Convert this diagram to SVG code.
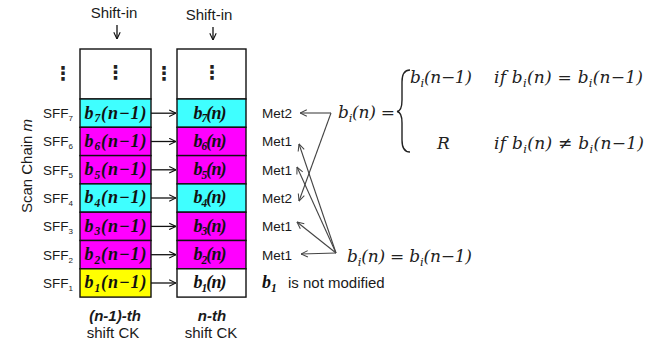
<svg xmlns="http://www.w3.org/2000/svg" width="671" height="342" viewBox="0 0 671 342">
<style>
.bg{fill:#fff}
.cell{stroke:#111;stroke-width:1.4}
.cy{fill:#3fffff}.mg{fill:#ff00ff}.ye{fill:#ffff00}.wh{fill:#fff}
.sans{font-family:"Liberation Sans",Arial,sans-serif;fill:#1a1a1a}
.lbl{font-size:13.5px}
.cl{font-family:"Liberation Serif","Times New Roman",serif;font-weight:bold;font-style:italic;font-size:18px;fill:#111}
.m{font-family:"DejaVu Serif",serif;font-style:italic;font-size:17px;fill:#222}
.sub{font-size:11.5px}
.dots{font-family:"DejaVu Sans",sans-serif;font-weight:bold;font-size:19px;fill:#222}
.arr{stroke:#111;stroke-width:1.3;fill:none}
.garr{stroke:#444;stroke-width:1.1;fill:none}
</style>
<defs>
<marker id="ah" viewBox="0 0 10 10" refX="9.5" refY="5" markerWidth="8" markerHeight="8" orient="auto" markerUnits="userSpaceOnUse">
<path d="M1,1 L9.5,5 L1,9" fill="none" stroke="#111" stroke-width="1.4"/>
</marker>
<marker id="gh" viewBox="0 0 10 10" refX="9.5" refY="5" markerWidth="8" markerHeight="8" orient="auto" markerUnits="userSpaceOnUse">
<path d="M1,1 L9.5,5 L1,9" fill="none" stroke="#444" stroke-width="1.3"/>
</marker>
</defs>
<rect class="bg" x="0" y="0" width="671" height="342"/>

<!-- headers -->
<g id="shiftin-left">
<text class="sans" x="114" y="18" font-size="15" text-anchor="middle">Shift-in</text>
</g>
<g id="shiftin-right">
<text class="sans" x="209" y="20" font-size="15" text-anchor="middle">Shift-in</text>
</g>

<!-- scan chain label -->
<text class="sans" transform="translate(32,166) rotate(-90)" font-size="15" text-anchor="middle">Scan Chain <tspan font-style="italic">m</tspan></text>

<!-- dots -->
<text class="dots" x="63" y="80" text-anchor="middle">⋮</text>
<text class="dots" x="164" y="80" text-anchor="middle">⋮</text>

<!-- left column -->
<g id="col-left">
<rect class="cell wh" x="80" y="49" width="71" height="50"/>
<text class="dots" x="115.5" y="79" text-anchor="middle">⋮</text>
</g>
<g id="L7"><rect class="cell cy" x="80" y="99" width="71" height="28.3"/><text class="cl" x="115.5" y="118.5" text-anchor="middle" textLength="62">b<tspan class="sub" dy="3.5">7</tspan><tspan dy="-3.5">(n−1)</tspan></text></g>
<g id="L6"><rect class="cell mg" x="80" y="127.3" width="71" height="28.3"/><text class="cl" x="115.5" y="146.8" text-anchor="middle" textLength="62">b<tspan class="sub" dy="3.5">6</tspan><tspan dy="-3.5">(n−1)</tspan></text></g>
<g id="L5"><rect class="cell mg" x="80" y="155.6" width="71" height="28.3"/><text class="cl" x="115.5" y="175.1" text-anchor="middle" textLength="62">b<tspan class="sub" dy="3.5">5</tspan><tspan dy="-3.5">(n−1)</tspan></text></g>
<g id="L4"><rect class="cell cy" x="80" y="183.9" width="71" height="28.3"/><text class="cl" x="115.5" y="203.4" text-anchor="middle" textLength="62">b<tspan class="sub" dy="3.5">4</tspan><tspan dy="-3.5">(n−1)</tspan></text></g>
<g id="L3"><rect class="cell mg" x="80" y="212.2" width="71" height="28.3"/><text class="cl" x="115.5" y="231.7" text-anchor="middle" textLength="62">b<tspan class="sub" dy="3.5">3</tspan><tspan dy="-3.5">(n−1)</tspan></text></g>
<g id="L2"><rect class="cell mg" x="80" y="240.5" width="71" height="28.3"/><text class="cl" x="115.5" y="260" text-anchor="middle" textLength="62">b<tspan class="sub" dy="3.5">2</tspan><tspan dy="-3.5">(n−1)</tspan></text></g>
<g id="L1"><rect class="cell ye" x="80" y="268.8" width="71" height="28.3"/><text class="cl" x="115.5" y="288.3" text-anchor="middle" textLength="62">b<tspan class="sub" dy="3.5">1</tspan><tspan dy="-3.5">(n−1)</tspan></text></g>

<!-- right column -->
<g id="col-right">
<rect class="cell wh" x="177" y="49" width="69" height="50"/>
<text class="dots" x="212" y="79" text-anchor="middle">⋮</text>
</g>
<g id="R7"><rect class="cell cy" x="177" y="99" width="69" height="28.3"/><text class="cl" x="210" y="118.5" text-anchor="middle" textLength="33">b<tspan class="sub" dy="3.5">7</tspan><tspan dy="-3.5">(n)</tspan></text></g>
<g id="R6"><rect class="cell mg" x="177" y="127.3" width="69" height="28.3"/><text class="cl" x="210" y="146.8" text-anchor="middle" textLength="33">b<tspan class="sub" dy="3.5">6</tspan><tspan dy="-3.5">(n)</tspan></text></g>
<g id="R5"><rect class="cell mg" x="177" y="155.6" width="69" height="28.3"/><text class="cl" x="210" y="175.1" text-anchor="middle" textLength="33">b<tspan class="sub" dy="3.5">5</tspan><tspan dy="-3.5">(n)</tspan></text></g>
<g id="R4"><rect class="cell cy" x="177" y="183.9" width="69" height="28.3"/><text class="cl" x="210" y="203.4" text-anchor="middle" textLength="33">b<tspan class="sub" dy="3.5">4</tspan><tspan dy="-3.5">(n)</tspan></text></g>
<g id="R3"><rect class="cell mg" x="177" y="212.2" width="69" height="28.3"/><text class="cl" x="210" y="231.7" text-anchor="middle" textLength="33">b<tspan class="sub" dy="3.5">3</tspan><tspan dy="-3.5">(n)</tspan></text></g>
<g id="R2"><rect class="cell mg" x="177" y="240.5" width="69" height="28.3"/><text class="cl" x="210" y="260" text-anchor="middle" textLength="33">b<tspan class="sub" dy="3.5">2</tspan><tspan dy="-3.5">(n)</tspan></text></g>
<g id="R1"><rect class="cell wh" x="177" y="268.8" width="69" height="28.3"/><text class="cl" x="210" y="288.3" text-anchor="middle" textLength="33">b<tspan class="sub" dy="3.5">1</tspan><tspan dy="-3.5">(n)</tspan></text></g>

<!-- SFF labels -->
<g id="sff-labels" class="sans" font-size="13.5">
<text x="43" y="118">SFF<tspan font-size="8" dy="3">7</tspan></text>
<text x="43" y="146.3">SFF<tspan font-size="8" dy="3">6</tspan></text>
<text x="43" y="174.6">SFF<tspan font-size="8" dy="3">5</tspan></text>
<text x="43" y="202.9">SFF<tspan font-size="8" dy="3">4</tspan></text>
<text x="43" y="231.2">SFF<tspan font-size="8" dy="3">3</tspan></text>
<text x="43" y="259.5">SFF<tspan font-size="8" dy="3">2</tspan></text>
<text x="43" y="287.8">SFF<tspan font-size="8" dy="3">1</tspan></text>
</g>

<!-- bottom captions -->
<g id="cap-left" class="sans" font-size="15" text-anchor="middle">
<text x="115" y="321" font-weight="bold" font-style="italic">(n-1)-th</text>
<text x="113" y="338">shift CK</text>
</g>
<g id="cap-right" class="sans" font-size="15" text-anchor="middle">
<text x="212" y="321" font-weight="bold" font-style="italic">n-th</text>
<text x="211" y="338">shift CK</text>
</g>

<!-- Met labels -->
<g id="met-labels" class="sans lbl">
<text x="262" y="118">Met2</text>
<text x="262" y="146.3">Met1</text>
<text x="262" y="174.6">Met1</text>
<text x="262" y="202.9">Met2</text>
<text x="262" y="231.2">Met1</text>
<text x="262" y="259.5">Met1</text>
</g>
<g id="b1-note">
<text class="cl" x="262" y="288" font-size="17">b<tspan class="sub" dy="3.5">1</tspan></text>
<text class="sans" x="288" y="288" font-size="15">is not modified</text>
</g>

<!-- formulas -->
<g id="formula-top">
<text class="m" x="338" y="118" textLength="57">b<tspan class="sub" dy="4">i</tspan><tspan dy="-4">(n) =</tspan></text>
<path d="M410,70 C404,70 402,74 402,82 L402,100 C402,107 401,111 397,111.5 C401,112 402,116 402,123 L402,140 C402,148 404,152 410,152" fill="none" stroke="#222" stroke-width="1.4"/>
<text class="m" x="410" y="83" textLength="62">b<tspan class="sub" dy="4">i</tspan><tspan dy="-4">(n−1)</tspan></text>
<text class="m" x="494" y="83" textLength="149">if b<tspan class="sub" dy="4">i</tspan><tspan dy="-4">(n) = b</tspan><tspan class="sub" dy="4">i</tspan><tspan dy="-4">(n−1)</tspan></text>
<text class="m" x="437" y="149">R</text>
<text class="m" x="494" y="149" textLength="150">if b<tspan class="sub" dy="4">i</tspan><tspan dy="-4">(n) ≠ b</tspan><tspan class="sub" dy="4">i</tspan><tspan dy="-4">(n−1)</tspan></text>
</g>
<g id="formula-bottom">
<text class="m" x="347" y="262" textLength="125">b<tspan class="sub" dy="4">i</tspan><tspan dy="-4">(n) = b</tspan><tspan class="sub" dy="4">i</tspan><tspan dy="-4">(n−1)</tspan></text>
</g>

<!-- connectors -->
<g id="connectors">
<line class="arr" x1="117" y1="25" x2="117" y2="39" marker-end="url(#ah)"/>
<line class="arr" x1="213" y1="27" x2="213" y2="40" marker-end="url(#ah)"/>
<line class="arr" x1="151" y1="113.2" x2="176" y2="113.2" marker-end="url(#ah)"/>
<line class="arr" x1="151" y1="141.5" x2="176" y2="141.5" marker-end="url(#ah)"/>
<line class="arr" x1="151" y1="169.8" x2="176" y2="169.8" marker-end="url(#ah)"/>
<line class="arr" x1="151" y1="198" x2="176" y2="198" marker-end="url(#ah)"/>
<line class="arr" x1="151" y1="226.4" x2="176" y2="226.4" marker-end="url(#ah)"/>
<line class="arr" x1="151" y1="254.7" x2="176" y2="254.7" marker-end="url(#ah)"/>
<line class="arr" x1="151" y1="283" x2="176" y2="283" marker-end="url(#ah)"/>
<line class="garr" x1="331" y1="113" x2="300" y2="113" marker-end="url(#gh)"/>
<line class="garr" x1="331" y1="113" x2="299" y2="201" marker-end="url(#gh)"/>
<line class="garr" x1="336" y1="253" x2="301" y2="254" marker-end="url(#gh)"/>
<line class="garr" x1="336" y1="253" x2="297" y2="222" marker-end="url(#gh)"/>
<line class="garr" x1="336" y1="253" x2="297" y2="167" marker-end="url(#gh)"/>
<line class="garr" x1="336" y1="253" x2="299" y2="144" marker-end="url(#gh)"/>
</g>
</svg>
